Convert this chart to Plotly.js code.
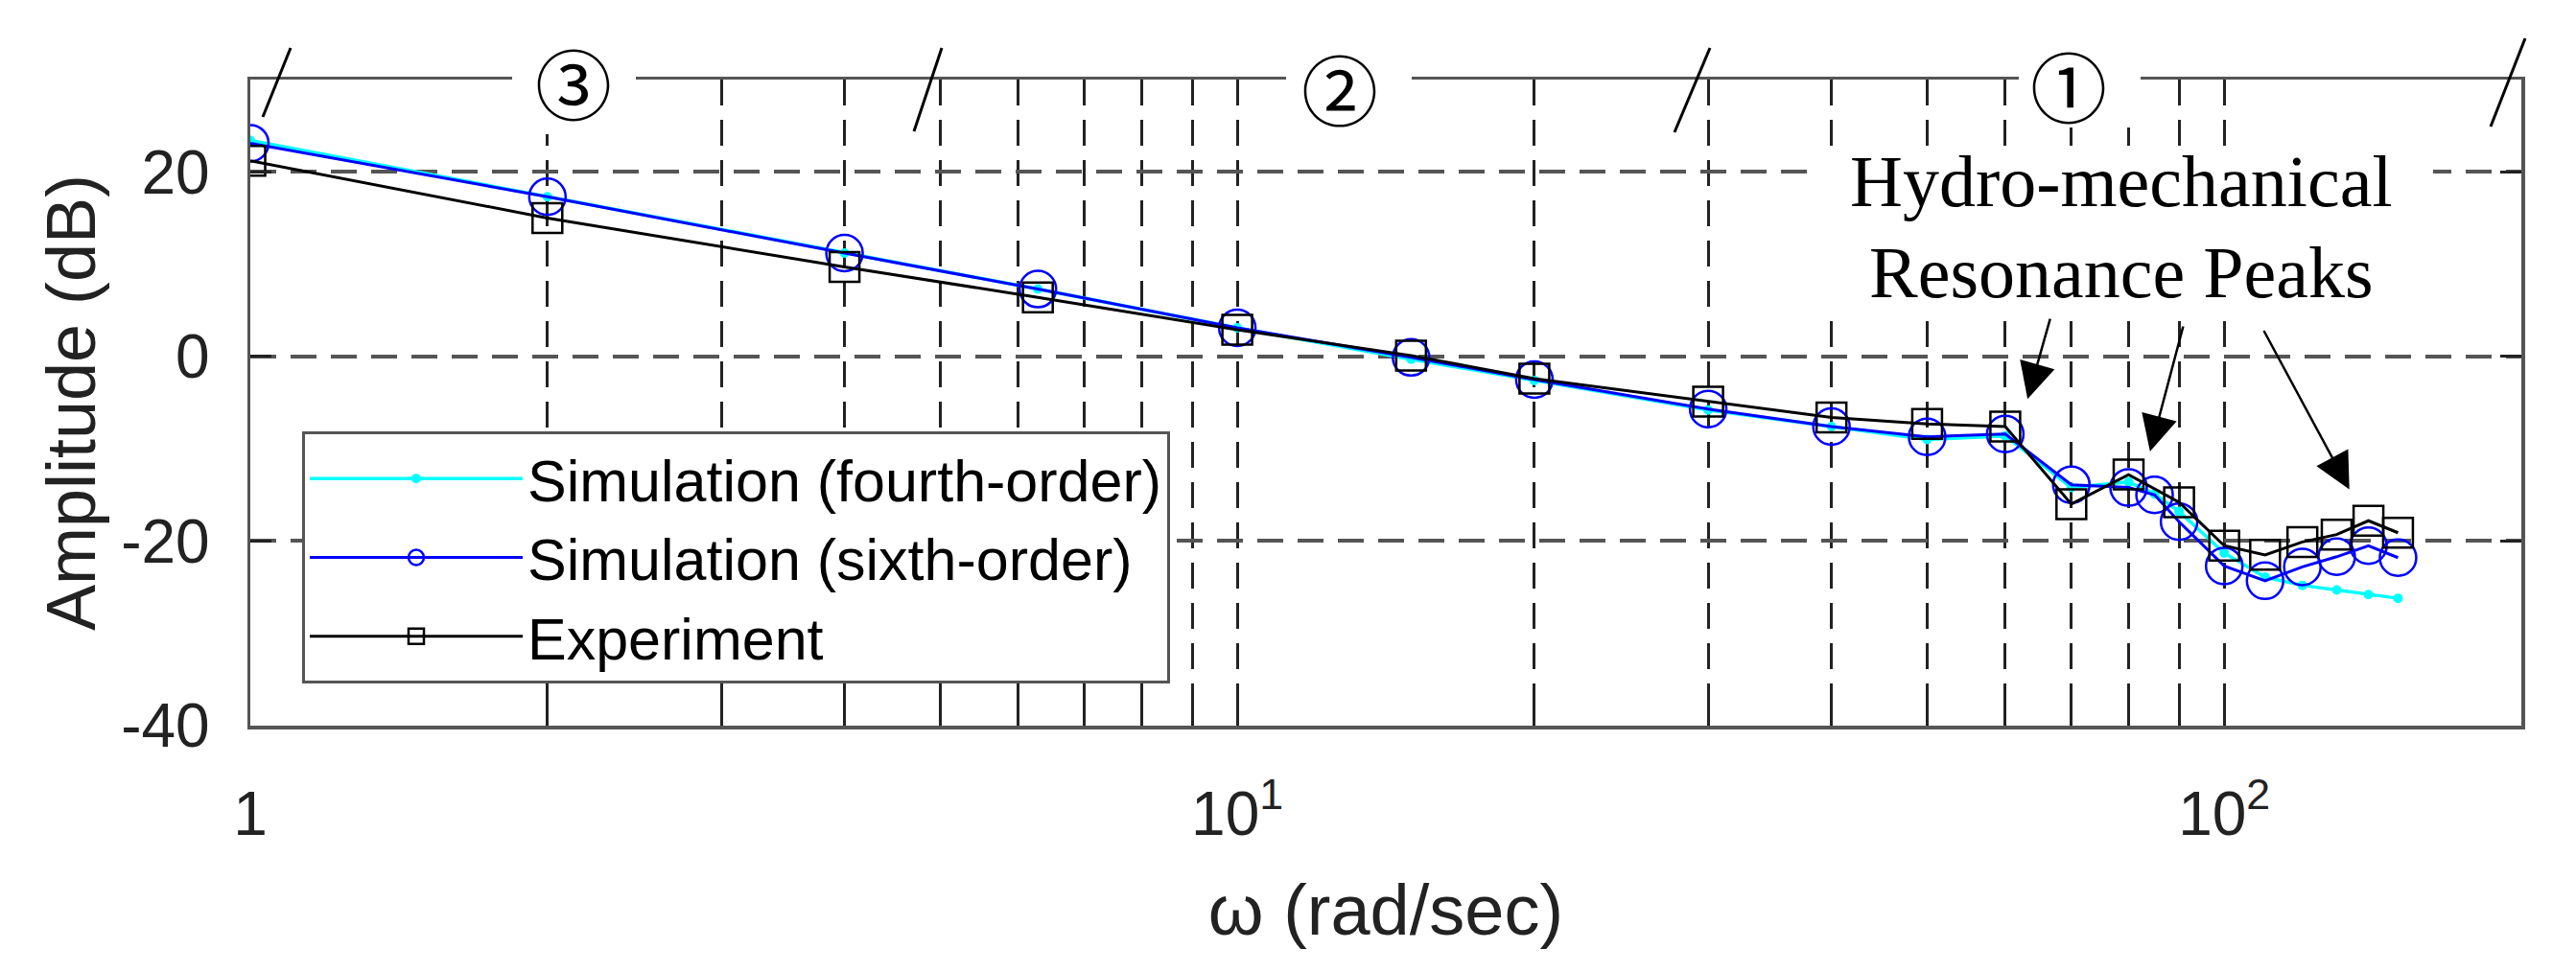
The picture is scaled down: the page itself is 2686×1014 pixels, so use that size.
<!DOCTYPE html>
<html><head><meta charset="utf-8">
<script src="https://cdn.plot.ly/plotly-3.0.1.min.js"></script>
<style>html,body{margin:0;padding:0;background:#fff;} #chart{width:2686px;height:1014px;}</style>
</head><body><div id="chart"></div>
<script>
// ---- data ----
const omegaSim = [1, 2, 4, 6.28, 10, 15, 20, 30, 40, 50, 60, 70, 80, 85, 90, 100, 110, 120, 130, 140, 150];
const ampFourth = [23.4, 17.3, 11.2, 7.3, 3.1, -0.3, -2.6, -5.8, -7.6, -9.0, -8.6, -14.2, -13.6, -14.9, -16.8, -21.3, -23.9, -24.8, -25.3, -25.8, -26.2];
const ampSixth = [23.1, 17.3, 11.2, 7.3, 3.1, -0.1, -2.5, -5.7, -7.6, -8.7, -8.4, -13.9, -14.2, -15.0, -17.9, -22.7, -24.3, -22.8, -21.7, -20.5, -21.8];
const omegaExp = [1, 2, 4, 6.28, 10, 15, 20, 30, 40, 50, 60, 70, 80, 90, 100, 110, 120, 130, 140, 150];
const ampExp = [21.2, 15.0, 9.7, 6.4, 2.9, 0.1, -2.4, -4.9, -6.6, -7.3, -7.6, -16.0, -12.8, -15.8, -20.5, -21.5, -20.1, -19.3, -17.8, -19.1];

const seriesNames = ['Simulation (fourth-order)', 'Simulation (sixth-order)', 'Experiment'];
const xTickVals = [1, 10, 100];
const xTickText = ['1', '10<sup>1</sup>', '10<sup>2</sup>'];
const xMinorVals = [2, 3, 4, 5, 6, 7, 8, 9, 20, 30, 40, 50, 60, 70, 80, 90];
const yTickVals = [-40, -20, 0, 20];
const yTickText = ['-40', '-20', '0', '20'];
const xRangeW = [1, 200];
const yRange = [-40, 30];

const regionLabels = ['③', '②', '①'];
const peakLines = ['Hydro-mechanical', 'Resonance Peaks'];
const peakOmega = [63.2, 84.1, 133.9];
const peakAmp = [-4.6, -10.3, -14.4];

// ---- style ----
const sansFont = 'Liberation Sans, Arial, Helvetica, sans-serif';
const serifFont = 'Liberation Serif, Times New Roman, serif';
const gridDash = '27px,15px';

const traces = [
  {x: omegaSim, y: ampFourth, name: seriesNames[0], type: 'scatter', mode: 'lines+markers',
   line: {color: '#00ffff', width: 3.5}, marker: {symbol: 'circle', size: 10, color: '#00ffff'}},
  {x: omegaSim, y: ampSixth, name: seriesNames[1], type: 'scatter', mode: 'lines+markers',
   line: {color: '#0000ff', width: 3}, marker: {symbol: 'circle-open', size: 38, color: '#0000ff', line: {width: 2.5, color: '#0000ff'}}},
  {x: omegaExp, y: ampExp, name: seriesNames[2], type: 'scatter', mode: 'lines+markers',
   line: {color: '#000000', width: 3}, marker: {symbol: 'square-open', size: 31, color: '#000000', line: {width: 2.5, color: '#000000'}}}
];

const L = 261, R = 2629, T = 83, B = 757;
const px2paperX = X => (X - L) / (R - L);
const px2paperY = Y => (B - Y) / (B - T);

const regionX = [598, 1397, 2157];
const regionY = [84, 90, 87];
const regionGap = [[534, 663, 140], [1341, 1472, 140], [2105, 2232, 133]];

const annotations = [];
regionLabels.forEach((t, i) => annotations.push({
  text: t, xref: 'paper', yref: 'paper', x: px2paperX(regionX[i]), y: px2paperY(regionY[i]),
  xanchor: 'center', yanchor: 'middle', showarrow: false, borderpad: 0,
  font: {family: 'Noto Sans CJK SC, Noto Sans CJK JP, sans-serif', size: 80, color: '#000'}
}));
const peakLineY = [189, 284];
peakLines.forEach((t, i) => annotations.push({
  text: t, xref: 'paper', yref: 'paper', x: px2paperX(2212), y: px2paperY(peakLineY[i]),
  xanchor: 'center', yanchor: 'middle', showarrow: false, borderpad: 0,
  font: {family: serifFont, size: 76, color: '#000'}
}));
const arrowOff = [[24, -85], [35, -132], [-90, -167]];
peakOmega.forEach((w, i) => annotations.push({
  text: '', x: Math.log10(w), y: peakAmp[i], xref: 'x', yref: 'y',
  showarrow: true, ax: arrowOff[i][0], ay: arrowOff[i][1],
  arrowhead: 2, arrowsize: 3, arrowwidth: 2.5, arrowcolor: '#000'
}));

const shapes = [];
// white gaps behind the region labels and the note
regionGap.forEach(g => shapes.push({
  type: 'rect', xref: 'paper', yref: 'paper', layer: 'above',
  x0: px2paperX(g[0]), x1: px2paperX(g[1]), y0: px2paperY(g[2]), y1: px2paperY(40),
  fillcolor: '#ffffff', line: {width: 0}
}));
shapes.push({
  type: 'rect', xref: 'paper', yref: 'paper', layer: 'above',
  x0: px2paperX(1890), x1: px2paperX(2537), y0: px2paperY(320), y1: px2paperY(160),
  fillcolor: '#ffffff', line: {width: 0}
});
const slashes = [
  [[303, 50], [274, 122]],
  [[982, 50], [953, 137]],
  [[1783, 50], [1746, 138]],
  [[2633, 40], [2597, 132]]
];
slashes.forEach(s => shapes.push({
  type: 'line', xref: 'paper', yref: 'paper', layer: 'above',
  x0: px2paperX(s[0][0]), y0: px2paperY(s[0][1]), x1: px2paperX(s[1][0]), y1: px2paperY(s[1][1]),
  line: {color: '#000', width: 3}
}));

const layout = {
  width: 2686, height: 1014,
  margin: {l: L, r: 2686 - R, t: T, b: 1014 - B, pad: 0},
  paper_bgcolor: '#ffffff', plot_bgcolor: '#ffffff',
  showlegend: true,
  legend: {
    x: px2paperX(315), y: px2paperY(450), xanchor: 'left', yanchor: 'top',
    bgcolor: '#ffffff', bordercolor: '#555555', borderwidth: 3,
    font: {family: sansFont, size: 61, color: '#000'},
    itemwidth: 222, tracegroupgap: 0, itemsizing: 'trace'
  },
  xaxis: {
    type: 'log', range: [Math.log10(xRangeW[0]), Math.log10(xRangeW[1])],
    tickmode: 'array', tickvals: xTickVals, ticktext: xTickText,
    ticks: 'inside', ticklen: 22, tickwidth: 3, tickcolor: '#222',
    showline: true, linecolor: '#555', linewidth: 3.5, mirror: 'ticks',
    showgrid: true, gridcolor: '#222', gridwidth: 3, griddash: gridDash,
    minor: {tickmode: 'array', tickvals: xMinorVals, ticks: 'inside', ticklen: 22, tickwidth: 3, tickcolor: '#222',
            showgrid: true, gridcolor: '#222', gridwidth: 3, griddash: gridDash},
    tickfont: {family: sansFont, size: 64, color: '#222'},
    ticklabelstandoff: 34,
    title: {text: 'ω (rad/sec)', font: {family: sansFont, size: 74, color: '#222'}, standoff: 40},
    automargin: false, zeroline: false, fixedrange: true
  },
  yaxis: {
    range: yRange, tickmode: 'array', tickvals: yTickVals, ticktext: yTickText,
    ticks: 'inside', ticklen: 22, tickwidth: 3, tickcolor: '#222',
    showline: true, linecolor: '#555', linewidth: 3.5, mirror: 'ticks',
    showgrid: true, gridcolor: '#555', gridwidth: 4, griddash: gridDash,
    tickfont: {family: sansFont, size: 64, color: '#222'},
    ticklabelstandoff: 26,
    title: {text: 'Amplitude (dB)', font: {family: sansFont, size: 72, color: '#222'}, standoff: 4},
    automargin: false, zeroline: false, fixedrange: true
  },
  annotations: annotations,
  shapes: shapes
};

Plotly.newPlot('chart', traces, layout, {displayModeBar: false, staticPlot: true});
</script></body></html>
